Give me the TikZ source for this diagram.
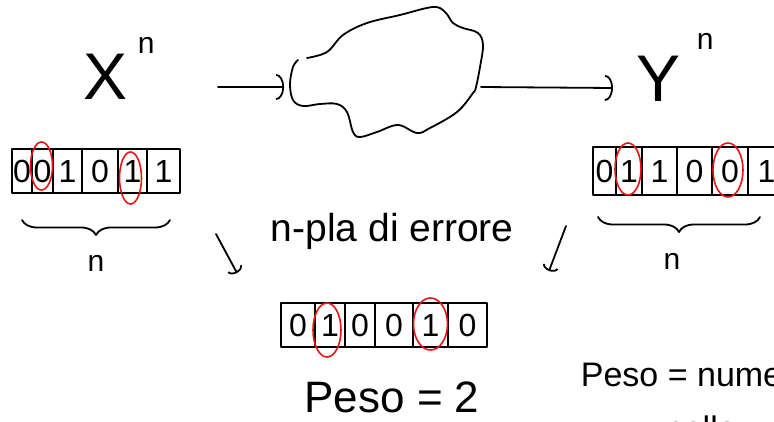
\documentclass[tikz,border=0pt]{standalone}
\usepackage{fontspec}
\setmainfont{Liberation Sans}
\usetikzlibrary{arrows.meta, decorations.pathreplacing, positioning}
\definecolor{color_err}{RGB}{235,20,20}
\definecolor{color_ink}{RGB}{0,0,0}
\newcommand{\fsz}[1]{\fontsize{#1}{#1}\selectfont}

\begin{document}
\begin{tikzpicture}[x=1pt, y=-1pt, line width=1.8pt, line cap=round, line join=round,
	bitcell/.style={draw=color_ink, inner sep=0pt, font=\fsz{32}},
	errmark/.style={draw=color_err, line width=1.6pt},
	flow/.style={draw=color_ink, -{Arc Barb[length=8pt, width=26pt]}},
	hint/.style={draw=color_ink, -{Arc Barb[length=5pt, width=16pt]}},
	brc/.style={draw=color_ink, decorate, decoration={brace, amplitude=15pt, mirror}},
	label/.style={inner sep=0pt, text=color_ink}]
	\clip (0,0) rectangle (774,422);
	\fill[white] (0,0) rectangle (774,422);
	% CANALE
	\node[label] (xin) [anchor=base west] at (83,100)
		{\fsz{66}X\hspace{10pt}\raisebox{46pt}{\fsz{30}n}};
	\node[label] (yout) [anchor=base west] at (636,102)
		{\fsz{66}Y\hspace{16pt}\raisebox{52pt}{\fsz{30}n}};
	\node[minimum width=195pt, minimum height=100pt] (chan) at (382.5,87) {};
	\draw[color_ink] plot[smooth, tension=0.6] coordinates {(307,58) (327,52) (343,35)
		(367,23) (400,15) (433,7) (445,12) (453,23) (463,28) (478,33) (483,45) (480,67)
		(476,87) (473,93) (457,112) (430,128) (417,133) (398,125) (377,132) (360,137)
		(353,132) (347,112) (337,104) (320,104) (303,106) (293,100) (290,84) (293,67) (298,60)};
	\coordinate (ina) at (218,87);
	\coordinate (yin) at (613,88);
	\draw[flow] (ina) -- (chan.west);
	\draw[flow] (chan.east) -- (yin);
	% PAROLE
	\foreach \x/\w/\b [count=\i] in {22/20/0, 42.5/21/0, 67.5/29/1, 100/36/0, 132.5/29/1, 163.5/33/1}
		\node[bitcell, minimum width=\w pt, minimum height=44pt] (l\i) at (\x,171) {\b};
	\foreach \x/\w/\b [count=\i] in {604.5/23/0, 629/26/1, 659.5/35/1, 694.5/35/0, 730/36/0, 766.5/37/1}
		\node[bitcell, minimum width=\w pt, minimum height=48pt] (r\i) at (\x,171) {\b};
	\foreach \x/\w/\b [count=\i] in {298/34/0, 330/30/1, 360/30/0, 394/38/0, 430.5/35/1, 467.5/39/0}
		\node[bitcell, minimum width=\w pt, minimum height=44pt] (m\i) at (\x,325) {\b};
	% ERRORI
	\draw[errmark] (l2) ++(-1,-5) ellipse [x radius=11pt, y radius=24pt];
	\draw[errmark] (l5) ++(-2,7) ellipse [x radius=11pt, y radius=26pt];
	\draw[errmark] (r2) ++(-1,-2) ellipse [x radius=13pt, y radius=26pt];
	\draw[errmark] (r5) ++(-2,-1) ellipse [x radius=15pt, y radius=27pt];
	\draw[errmark] (m2) ++(-3,5) ellipse [x radius=14pt, y radius=27pt];
	\draw[errmark] (m5) ++(0,-1) ellipse [x radius=17pt, y radius=26pt];
	% LUNGHEZZA
	\draw[brc] (22,220) -- (170,220);
	\draw[brc] (598,217) -- (760,217);
	\node[label, font=\fsz{30}] (nl) at (96,263) {n};
	\node[label, font=\fsz{30}] (nr) at (672,261) {n};
	% VETTORE ERRORE
	\node[label, font=\fsz{39}, anchor=base west] (epat) at (270,242) {n-pla di errore};
	\coordinate (ea) at (216,234);
	\coordinate (eb) at (237,273);
	\coordinate (ec) at (566,226);
	\coordinate (ed) at (549,271);
	\draw[hint] (ea) -- (eb);
	\draw[hint] (ec) -- (ed);
	\node[label, font=\fsz{44}, anchor=base] (peso) at (392,412) {Peso = 2};
	\node[label, font=\fsz{34}, anchor=base west] (pdef) at (580,386) {Peso = numero};
	\node[label, font=\fsz{34}, anchor=base west] (pdef2) at (664,440) {nella};
\end{tikzpicture}
\end{document}
